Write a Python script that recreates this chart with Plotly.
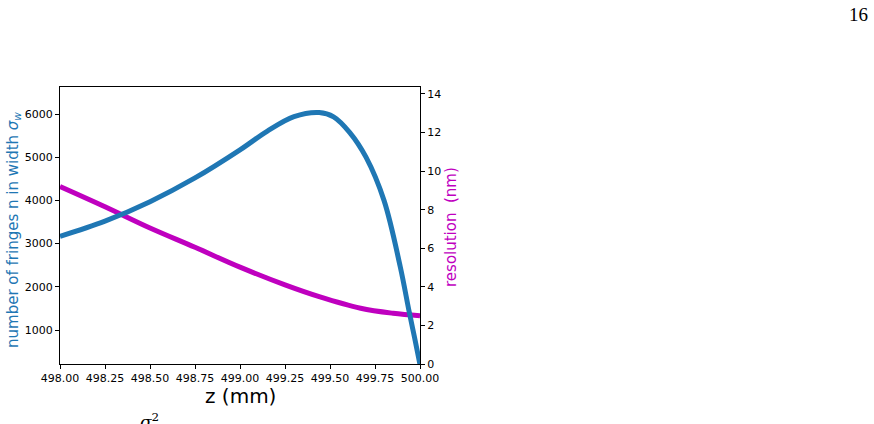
import plotly.graph_objects as go

# Data
z_fringes = [498.0, 498.25, 498.5, 498.75, 499.0, 499.15, 499.3, 499.44, 499.52,
             499.61, 499.70, 499.80, 499.89, 499.94, 499.97, 500.0]
n_fringes = [3169, 3520, 3970, 4520, 5170, 5600, 5940, 6035, 5935,
             5570, 5000, 4000, 2470, 1420, 820, 200]

z_res = [498.0, 498.25, 498.5, 498.75, 499.0, 499.25, 499.44, 499.67, 499.85, 500.0]
resolution = [9.2, 8.15, 7.05, 6.05, 5.02, 4.1, 3.49, 2.89, 2.63, 2.5]

x_ticks = [498.0, 498.25, 498.5, 498.75, 499.0, 499.25, 499.5, 499.75, 500.0]
left_ticks = [1000, 2000, 3000, 4000, 5000, 6000]
right_ticks = [0, 2, 4, 6, 8, 10, 12, 14]

BLUE = "#1f77b4"
MAG = "#bf00bf"
TICKFONT = dict(family="DejaVu Sans", size=11, color="black")

fig = go.Figure()
fig.add_trace(go.Scatter(x=z_res, y=resolution, mode="lines", yaxis="y",
                         line=dict(color=MAG, width=5, shape="spline", smoothing=1.0),
                         showlegend=False))
fig.add_trace(go.Scatter(x=z_fringes, y=n_fringes, mode="lines", yaxis="y2",
                         line=dict(color=BLUE, width=5, shape="spline", smoothing=1.0),
                         showlegend=False))

fig.update_layout(
    width=874, height=424,
    margin=dict(l=60, r=454, t=87, b=60),
    paper_bgcolor="white", plot_bgcolor="white",
    xaxis=dict(range=[498.0, 500.0], tickvals=x_ticks, tickformat=".2f",
               showgrid=False, zeroline=False, showline=True, linecolor="black",
               linewidth=1, mirror=True, ticks="outside", ticklen=4,
               tickcolor="black", tickfont=TICKFONT),
    yaxis=dict(range=[0, 14.36], tickvals=right_ticks, side="right",
               showgrid=False, zeroline=False, showline=True, linecolor="black",
               linewidth=1, ticks="outside", ticklen=4, tickcolor="black",
               tickfont=TICKFONT),
    yaxis2=dict(range=[213, 6625], tickvals=left_ticks, side="left",
                overlaying="y", showgrid=False, zeroline=False, showline=True,
                linecolor="black", linewidth=1, ticks="outside", ticklen=4,
                tickcolor="black", tickfont=TICKFONT),
)

def px_x(px):
    return (px - 60) / 360.0

def px_y(py):
    return (364 - py) / 277.0

fig.add_annotation(text="number of fringes n in width <i>σ</i><sub><i>w</i></sub>",
                   xref="paper", yref="paper", x=px_x(13), y=px_y(230),
                   textangle=-90, showarrow=False, xanchor="center", yanchor="middle",
                   font=dict(family="DejaVu Sans", size=15, color=BLUE))
fig.add_annotation(text="resolution  (nm)",
                   xref="paper", yref="paper", x=px_x(451), y=px_y(227),
                   textangle=-90, showarrow=False, xanchor="center", yanchor="middle",
                   font=dict(family="DejaVu Sans", size=15, color=MAG))
fig.add_annotation(text="z (mm)", xref="paper", yref="paper",
                   x=px_x(240), y=px_y(396), showarrow=False,
                   xanchor="center", yanchor="middle",
                   font=dict(family="DejaVu Sans", size=20, color="black"))
fig.add_annotation(text="16", xref="paper", yref="paper",
                   x=px_x(858), y=px_y(14), showarrow=False,
                   xanchor="center", yanchor="middle",
                   font=dict(family="Liberation Serif", size=19, color="black"))
fig.add_annotation(text="<i>σ</i><sup>2</sup>", xref="paper", yref="paper",
                   x=px_x(149), y=px_y(408), showarrow=False,
                   xanchor="center", yanchor="top",
                   font=dict(family="DejaVu Serif", size=17, color="black"))

fig.write_html("out.html")
